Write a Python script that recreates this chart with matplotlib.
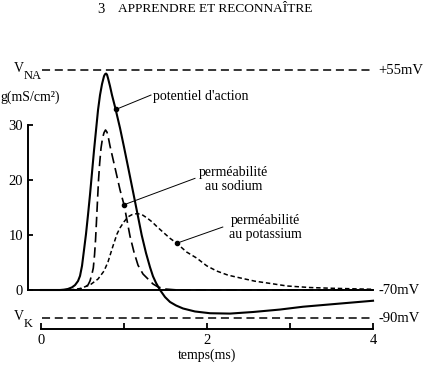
import matplotlib
matplotlib.use('Agg')
import matplotlib.pyplot as plt

# action potential, membrane voltage (mV) vs time (ms)
AP_T = [0.0, 0.229, 0.277, 0.325, 0.373, 0.410, 0.446, 0.470, 0.494, 0.518, 0.542, 0.566,
        0.590, 0.614, 0.639, 0.663, 0.687, 0.711, 0.735, 0.759, 0.771, 0.783, 0.795, 0.807,
        0.831, 0.855, 0.892, 0.952, 1.000, 1.054, 1.112, 1.163, 1.213, 1.265, 1.313, 1.349,
        1.386, 1.434, 1.494, 1.554, 1.627, 1.711, 1.855, 2.036, 2.277, 2.554, 2.880, 3.157,
        3.602, 4.0]
AP_V = [-70, -70, -69.8, -69.4, -68.5, -67.2, -64.9, -62.0, -56.3, -47.3, -38.2, -27.4,
        -16.0, -3.5, 9.5, 20.9, 32.3, 40.8, 47.0, 51.5, 52.6, 53.0, 52.4, 50.4,
        45.9, 40.8, 34.0, 22.0, 11.2, -1.3, -14.9, -26.9, -38.8, -49.0, -57.0, -62.2,
        -66.0, -70.0, -74.0, -76.8, -78.8, -80.5, -82.2, -83.2, -83.4, -82.5, -81.1, -79.5,
        -77.7, -76.1]

# sodium conductance g (mS/cm2)
NA_T = [0.0, 0.410, 0.470, 0.530, 0.566, 0.590, 0.614, 0.630, 0.645, 0.657, 0.669, 0.681,
        0.693, 0.707, 0.723, 0.741, 0.759, 0.777, 0.795, 0.813, 0.831, 0.892, 0.952, 1.000,
        1.036, 1.072, 1.120, 1.169, 1.229, 1.289, 1.349, 1.410, 1.494, 1.614, 1.916, 4.0]
NA_G = [0, 0, 0.13, 0.55, 0.91, 1.64, 2.91, 4.0, 6.4, 9.1, 12.7, 16.4,
        20.0, 23.1, 25.8, 27.6, 28.6, 29.1, 28.7, 27.6, 26.2, 22.2, 18.2, 15.5,
        12.7, 9.8, 6.9, 4.5, 2.9, 2.0, 1.1, 0.55, 0.18, 0.04, 0, 0]

# potassium conductance g (mS/cm2)
K_T = [0.0, 0.349, 0.470, 0.590, 0.687, 0.759, 0.807, 0.867, 0.916, 0.952, 1.000, 1.048,
       1.096, 1.157, 1.217, 1.277, 1.337, 1.398, 1.494, 1.554, 1.635, 1.755, 1.876, 1.996,
       2.117, 2.253, 2.398, 2.578, 2.759, 2.964, 3.241, 3.518, 4.0]
K_G = [0, 0, 0.27, 0.91, 2.0, 3.45, 5.1, 8.0, 10.2, 11.3, 12.4, 13.3,
       13.7, 13.9, 13.7, 13.1, 12.4, 11.5, 10.2, 9.4, 8.5, 6.9, 5.8, 4.4,
       3.45, 2.7, 2.2, 1.6, 1.2, 0.73, 0.45, 0.31, 0.13]

V_NA = 55
V_K = -86  # dashed V_K line sits a bit above -90 in the drawing
V_REST = -70
G_TICKS = [0, 10, 20, 30]
T_TICKS = [0, 1, 2, 3, 4]
T_LABELS = ['0', '', '2', '', '4']

G_LIM = (-14.0, 52.73)
T_LIM = (-0.494, 4.602)


def g_to_v(g):
    # g = 0 sits on the resting potential, g = 40 on V_NA
    return V_REST + g * (V_NA - V_REST) / 40.0


def main():
    plt.rcParams.update({'font.family': 'Liberation Serif', 'lines.scale_dashes': False})
    fig = plt.figure(figsize=(4.23, 3.67), dpi=100)
    ax = fig.add_axes([0, 0, 1, 1])
    ax.set_xlim(*T_LIM); ax.set_ylim(*G_LIM)
    ax.patch.set_visible(False)
    for s in ['top', 'right']:
        ax.spines[s].set_visible(False)
    ax.spines['left'].set_position(('data', -0.157)); ax.spines['left'].set_bounds(0, 30)
    ax.spines['bottom'].set_position(('data', -7.09)); ax.spines['bottom'].set_bounds(0, 4)
    for s in ['left', 'bottom']:
        ax.spines[s].set_linewidth(1.4)
    ax.set_yticks(G_TICKS)
    ax.set_xticks(T_TICKS, T_LABELS)
    ax.tick_params(axis='y', direction='in', length=3.8, width=1.3, pad=3.5, labelsize=10.5)
    ax.tick_params(axis='x', direction='in', length=4.5, width=1.3, pad=3.5, labelsize=10.5)

    # conductances
    ax.plot([-0.157, 4.0], [0, 0], color='black', lw=1.4)
    ax.plot(NA_T, NA_G, color='black', lw=1.2, dashes=(7.5, 3.5))
    ax.plot(K_T, K_G, color='black', lw=1.1, dashes=(3.2, 2.0))

    # voltages on a twin scale
    axv = ax.twinx()
    axv.set_ylim(g_to_v(G_LIM[0]), g_to_v(G_LIM[1]))
    axv.axis('off')
    axv.plot(AP_T, AP_V, color='black', lw=1.5)
    axv.plot([0.01, 3.98], [V_NA, V_NA], color='black', lw=1.1, dashes=(5.8, 3.4))
    axv.plot([0.01, 3.98], [V_K, V_K], color='black', lw=1.1, dashes=(5.8, 3.4))
    for val, lab in [(V_NA, '+55mV'), (V_REST, '-70mV'), (V_K, '-90mV')]:
        axv.text(4.06, val, lab, ha='left', va='center', fontsize=10.5)
    for val, sub in [(V_NA, 'NA'), (V_K, 'K')]:
        axv.annotate('V', xy=(0, val), xytext=(-15.8, 1.2), textcoords='offset points',
                     ha='center', va='center', fontsize=10)
        axv.annotate(sub, xy=(0, val), xytext=(-9.5 if sub == 'K' else -5.8, -4.0),
                     textcoords='offset points', ha='center', va='center', fontsize=9)

    # callouts
    ax.plot([0.905, 1.325], [32.85, 35.45], color='black', lw=0.7)
    ax.plot([0.905], [32.85], 'o', color='black', ms=3)
    ax.text(1.35, 35.1, "potentiel d'action", ha='left', va='center', fontsize=10)
    ax.plot([1.0, 1.855], [15.5, 20.3], color='black', lw=0.7)
    ax.plot([1.0], [15.5], 'o', color='black', ms=3)
    ax.text(2.32, 20.1, 'perméabilité\nau sodium', ha='center', va='center', fontsize=10,
            linespacing=1.1)
    ax.plot([1.635, 2.19], [8.5, 11.45], color='black', lw=0.7)
    ax.plot([1.635], [8.5], 'o', color='black', ms=3)
    ax.text(2.7, 11.4, 'perméabilité\nau potassium', ha='center', va='center', fontsize=10,
            linespacing=1.1)

    fig.text(30 / 423, 1 - 97 / 367, 'g(mS/cm²)', ha='center', va='center', fontsize=10)
    ax.text(2.0, -11.9, 'temps(ms)', ha='center', va='center', fontsize=10)
    fig.text(100.5 / 423, 1 - 9.5 / 367, '3', ha='center', va='center', fontsize=10.5)
    fig.text(118 / 423, 1 - 9.5 / 367, 'APPRENDRE ET RECONNAÎTRE', ha='left', va='center',
             fontsize=9.6)
    fig.savefig('out.png', dpi=100)


if __name__ == '__main__':
    main()
